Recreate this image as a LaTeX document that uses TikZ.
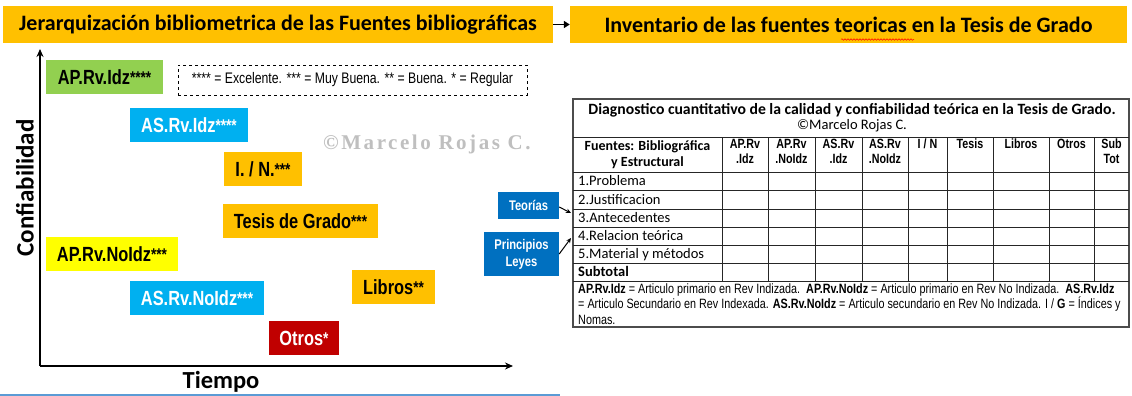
\documentclass[tikz,border=0pt]{standalone}
\usepackage{fontspec}
\setmainfont{Carlito}
\newfontfamily\narrow[FakeStretch=0.80]{Liberation Sans}
\newfontfamily\wmserif[LetterSpace=12]{Liberation Serif}
\usetikzlibrary{arrows.meta,decorations.pathmorphing}
\definecolor{cOrange}{HTML}{FFC000}
\definecolor{cGreen}{HTML}{92D050}
\definecolor{cSky}{HTML}{00B0F0}
\definecolor{cYellow}{HTML}{FFFF00}
\definecolor{cRed}{HTML}{C00000}
\definecolor{cBlue}{HTML}{0070C0}
\definecolor{cWm}{HTML}{BFBFBF}
\definecolor{cLine}{HTML}{5B9BD5}
\newcommand{\stars}[1]{{\fontsize{17}{17}\selectfont\raisebox{0.5pt}{#1}}}
\tikzset{
  hbox/.style={fill=cOrange, inner sep=0pt, minimum height=37pt, font=\bfseries\fontsize{22}{22}\selectfont},
  cbox/.style={inner sep=0pt, minimum height=34pt, font=\narrow\bfseries\fontsize{20.5}{20.5}\selectfont},
  sbox/.style={fill=cBlue, text=white, inner sep=0pt, align=center, font=\narrow\bfseries\fontsize{14}{17}\selectfont},
  axis/.style={line width=1.8pt, -{Stealth[length=8pt,width=7pt]}},
  tline/.style={line width=0.8pt, black!85},
  rowlab/.style={anchor=base west, inner sep=0pt, font=\fontsize{14.5}{14.5}\selectfont},
  colhd/.style={anchor=base, inner sep=0pt, font=\narrow\bfseries\fontsize{13.4}{13.4}\selectfont},
  foot/.style={anchor=base west, inner sep=0pt, font=\narrow\fontsize{13.5}{13.5}\selectfont},
  smallarrow/.style={line width=1pt, -{Stealth[length=5pt,width=4.5pt]}}
}
\begin{document}
\begin{tikzpicture}[x=1pt,y=-1pt]
\useasboundingbox (0,0) rectangle (1132,396);
% headers
\node[hbox, minimum width=550pt] (h1) at (278,24.5) {Jerarquización bibliometrica de las Fuentes bibliográficas};
\node[hbox, minimum width=557pt] (h2) at (848.5,24.5) {Inventario de las fuentes teoricas en la Tesis de Grado};
\draw[line width=1.6pt, -{Triangle[length=6pt,width=7pt]}] (h1.east) -- (h2.west);
\coordinate (w1) at (841,39.5);
\coordinate (w2) at (914,39.5);
\draw[red, line width=0.5pt, decorate, decoration={snake, amplitude=0.8pt, segment length=3pt}] (w1) -- (w2);
% axes
\coordinate (o) at (40,366);
\coordinate (ytop) at (40,49);
\coordinate (xend) at (513,366);
\draw[axis] (o) -- (ytop);
\draw[axis] (o) -- (xend);
\node[rotate=90, inner sep=0pt, font=\bfseries\fontsize{25}{25}\selectfont] (conf) at (25,188) {Confiabilidad};
\node[anchor=base, inner sep=0pt, font=\bfseries\fontsize{24.5}{24.5}\selectfont] (tiempo) at (221,388) {Tiempo};
% watermark
\node[anchor=base west, inner sep=0pt, text=cWm, font=\wmserif\bfseries\fontsize{21}{21}\selectfont] (wm) at (323,149) {©Marcelo Rojas C.};
% category boxes
\node[cbox, fill=cGreen, minimum width=117pt] (apidz) at (104.5,77) {AP.Rv.Idz\stars{****}};
\node[draw, dashed, line width=0.7pt, minimum width=349pt, minimum height=30pt, inner sep=0pt, font=\narrow\fontsize{15.3}{15.3}\selectfont] (legend) at (352.5,80) {**** = Excelente. *** = Muy Buena. ** = Buena. * = Regular};
\node[cbox, fill=cSky, text=white, minimum width=118pt] (asidz) at (189,125) {AS.Rv.Idz\stars{****}};
\node[cbox, fill=cOrange, minimum width=78pt] (in) at (263,169) {I. / N.\stars{***}};
\node[cbox, fill=cOrange, minimum width=155pt] (tesis) at (300.5,221) {Tesis de Grado\stars{***}};
\node[cbox, fill=cYellow, minimum width=132pt] (apnoidz) at (112,254) {AP.Rv.NoIdz\stars{***}};
\node[cbox, fill=cSky, text=white, minimum width=134pt] (asnoidz) at (197,298) {AS.Rv.NoIdz\stars{***}};
\node[cbox, fill=cOrange, minimum width=83pt] (libros) at (393.5,287) {Libros\stars{**}};
\node[cbox, fill=cRed, text=white, minimum width=70pt] (otros) at (304,338) {Otros\stars{*}};
% side boxes
\node[sbox, minimum width=61pt, minimum height=27pt] (teorias) at (528.5,205.5) {Teorías};
\node[sbox, minimum width=75pt, minimum height=44pt] (princ) at (521.5,254) {Principios\\Leyes};
\coordinate (ta) at (571,213);
\coordinate (pa) at (571,238);
\draw[smallarrow] (teorias.east) ++(0,1.5) -- (ta);
\draw[smallarrow] (princ.east) -- (pa);
% table grid
\draw[line width=1.2pt, black!70] (573,99) rectangle (1129,327);
\foreach \yy in {137,172,190.5,209,227,245,263,281} \draw[tline] (573,\yy) -- (1129,\yy);
\foreach \xx in {722,768,815,862,908,947,993,1049,1094} \draw[tline] (\xx,137) -- (\xx,281);
% table title
\node[anchor=base, inner sep=0pt, font=\bfseries\fontsize{15.7}{15.7}\selectfont] (ttl) at (852,114) {Diagnostico cuantitativo de la calidad y confiabilidad teórica en la Tesis de Grado.};
\node[anchor=base, inner sep=0pt, font=\fontsize{14.5}{14.5}\selectfont] (ttl2) at (852,129.5) {©Marcelo Rojas C.};
\node[anchor=base, inner sep=0pt, font=\bfseries\fontsize{14}{14}\selectfont] (fa) at (647.5,150) {Fuentes: Bibliográfica};
\node[anchor=base, inner sep=0pt, font=\bfseries\fontsize{14}{14}\selectfont] (fb) at (647.5,166.5) {y Estructural};
% column heads
\node[colhd] (c1a) at (745,148) {AP.Rv};   \node[colhd] (c1b) at (745,163) {.Idz};
\node[colhd] (c2a) at (791.5,148) {AP.Rv}; \node[colhd] (c2b) at (791.5,163) {.NoIdz};
\node[colhd] (c3a) at (838.5,148) {AS.Rv}; \node[colhd] (c3b) at (838.5,163) {.Idz};
\node[colhd] (c4a) at (885,148) {AS.Rv};   \node[colhd] (c4b) at (885,163) {.NoIdz};
\node[colhd] (c5a) at (927.5,148) {I / N};
\node[colhd] (c6a) at (970,148) {Tesis};
\node[colhd] (c7a) at (1021,148) {Libros};
\node[colhd] (c8a) at (1071.5,148) {Otros};
\node[colhd] (c9a) at (1111.5,148) {Sub}; \node[colhd] (c9b) at (1111.5,163) {Tot};
% row labels
\node[rowlab] (r1) at (578,185.5) {1.Problema};
\node[rowlab] (r2) at (578,204) {2.Justificacion};
\node[rowlab] (r3) at (578,222) {3.Antecedentes};
\node[rowlab] (r4) at (578,240) {4.Relacion teórica};
\node[rowlab] (r5) at (578,258) {5.Material y métodos};
\node[rowlab, font=\bfseries\fontsize{14.5}{14.5}\selectfont] (r6) at (578,276) {Subtotal};
% footnote
\node[foot] (f1) at (578,293) {\textbf{AP.Rv.Idz} = Articulo primario en Rev Indizada.\ \ \textbf{AP.Rv.NoIdz} = Articulo primario en Rev No Indizada.\ \ \textbf{AS.Rv.Idz}};
\node[foot] (f2) at (578,308.5) {= Articulo Secundario en Rev Indexada. \textbf{AS.Rv.NoIdz} = Articulo secundario en Rev No Indizada. I / \textbf{G} = Índices y};
\node[foot] (f3) at (578,324) {Nomas.};
% bottom rule
\coordinate (b1) at (0,395);
\coordinate (b2) at (560,395);
\draw[cLine, line width=1.2pt] (b1) -- (b2);
\end{tikzpicture}
\end{document}
